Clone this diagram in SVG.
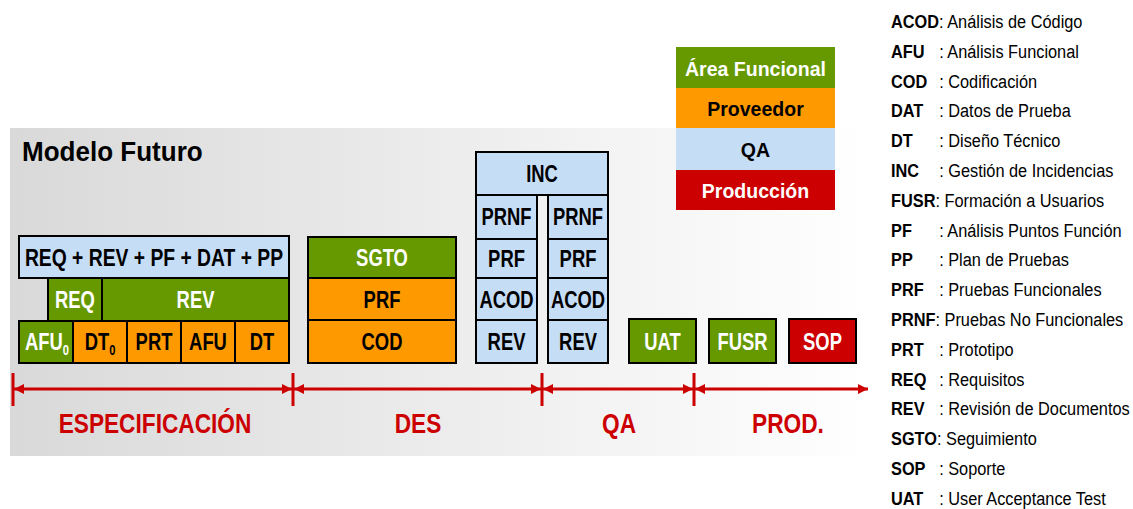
<svg xmlns="http://www.w3.org/2000/svg" width="1133" height="509" viewBox="0 0 1133 509">
  <defs>
    <linearGradient id="panelFill" x1="0" y1="0" x2="1" y2="0">
      <stop offset="0" stop-color="#d9d9d9"/>
      <stop offset="1" stop-color="#ffffff"/>
    </linearGradient>
    <marker id="head" viewBox="0 0 10 10" refX="10" refY="5" markerWidth="10" markerHeight="10" markerUnits="userSpaceOnUse" orient="auto-start-reverse">
      <path d="M0,0 L10,5 L0,10 z" fill="#cc0000"/>
    </marker>
    <style>
      text { font-family: "Liberation Sans", Arial, sans-serif; }
      .box { stroke: #000; stroke-width: 2; }
      .g { fill: #669900; }
      .o { fill: #ff9900; }
      .b { fill: #c6ddf6; }
      .r { fill: #cc0000; }
      .t { font-weight: bold; font-size: 23px; text-anchor: middle; }
      .kt { font-weight: bold; font-size: 21px; text-anchor: middle; }
      .w { fill: #ffffff; }
      .k { fill: #000000; }
      .title { font-weight: bold; font-size: 28px; fill: #000; }
      .phase { font-weight: bold; font-size: 27px; fill: #cc0000; text-anchor: middle; }
      .axis { stroke: #cc0000; stroke-width: 3; fill: none; }
      .seg { stroke: #cc0000; stroke-width: 3; fill: none; marker-start: url(#head); marker-end: url(#head); }
      .lg { font-size: 19px; fill: #000; }
      .ab { font-weight: bold; }
      .sub { font-size: 14px; }
    </style>
  </defs>

  <!-- background panel -->
  <rect x="10" y="128" width="860" height="328" fill="url(#panelFill)"/>
  <text class="title" transform="translate(22 161) scale(.93 1)">Modelo Futuro</text>

  <!-- colour key -->
  <g id="key">
    <rect x="676" y="47" width="159" height="41" class="g"/>
    <text class="kt w" transform="translate(755.5 76) scale(.93 1)">Área Funcional</text>
    <rect x="676" y="88" width="159" height="40" class="o"/>
    <text class="kt k" transform="translate(755.5 116) scale(.93 1)">Proveedor</text>
    <rect x="676" y="128" width="159" height="42" class="b"/>
    <text class="kt k" transform="translate(755.5 157) scale(.93 1)">QA</text>
    <rect x="676" y="170" width="159" height="40" class="r"/>
    <text class="kt w" transform="translate(755.5 198) scale(.93 1)">Producción</text>
  </g>

  <!-- ESPECIFICACIÓN stack -->
  <g id="spec-qa">
    <rect x="19" y="236" width="270" height="42" class="box b"/>
    <text class="t k" transform="translate(154 265.5) scale(.84 1)">REQ + REV + PF + DAT + PP</text>
  </g>
  <g id="spec-req">
    <rect x="48" y="278" width="54" height="43" class="box g"/>
    <text class="t w" transform="translate(75 308) scale(.8 1)">REQ</text>
  </g>
  <g id="spec-rev">
    <rect x="102" y="278" width="187" height="43" class="box g"/>
    <text class="t w" transform="translate(195.5 308) scale(.8 1)">REV</text>
  </g>
  <g id="spec-afu0">
    <rect x="19" y="321" width="54" height="42" class="box g"/>
    <text class="t w" transform="translate(47 350) scale(.8 1)">AFU<tspan class="sub" dy="5">0</tspan></text>
  </g>
  <g id="spec-dt0">
    <rect x="73" y="321" width="54" height="42" class="box o"/>
    <text class="t k" transform="translate(100 350) scale(.8 1)">DT<tspan class="sub" dy="5">0</tspan></text>
  </g>
  <g id="spec-prt">
    <rect x="127" y="321" width="54" height="42" class="box o"/>
    <text class="t k" transform="translate(154 350) scale(.8 1)">PRT</text>
  </g>
  <g id="spec-afu">
    <rect x="181" y="321" width="54" height="42" class="box o"/>
    <text class="t k" transform="translate(208 350) scale(.8 1)">AFU</text>
  </g>
  <g id="spec-dt">
    <rect x="235" y="321" width="54" height="42" class="box o"/>
    <text class="t k" transform="translate(262 350) scale(.8 1)">DT</text>
  </g>

  <!-- DES stack -->
  <g id="des-sgto">
    <rect x="308" y="237" width="148" height="41" class="box g"/>
    <text class="t w" transform="translate(382 265.5) scale(.8 1)">SGTO</text>
  </g>
  <g id="des-prf">
    <rect x="308" y="278" width="148" height="42" class="box o"/>
    <text class="t k" transform="translate(382 307.5) scale(.8 1)">PRF</text>
  </g>
  <g id="des-cod">
    <rect x="308" y="320" width="148" height="43" class="box o"/>
    <text class="t k" transform="translate(382 350) scale(.8 1)">COD</text>
  </g>

  <!-- QA stack -->
  <g id="qa-inc">
    <rect x="476" y="152" width="132" height="43" class="box b"/>
    <text class="t k" transform="translate(542 182) scale(.8 1)">INC</text>
  </g>
  <g id="qa-prnf-1">
    <rect x="476" y="195" width="61" height="44" class="box b"/>
    <text class="t k" transform="translate(506.5 225) scale(.8 1)">PRNF</text>
  </g>
  <g id="qa-prf-1">
    <rect x="476" y="239" width="61" height="39" class="box b"/>
    <text class="t k" transform="translate(506.5 267) scale(.8 1)">PRF</text>
  </g>
  <g id="qa-acod-1">
    <rect x="476" y="278" width="61" height="42" class="box b"/>
    <text class="t k" transform="translate(506.5 307.5) scale(.8 1)">ACOD</text>
  </g>
  <g id="qa-rev-1">
    <rect x="476" y="320" width="61" height="43" class="box b"/>
    <text class="t k" transform="translate(506.5 350) scale(.8 1)">REV</text>
  </g>
  <g id="qa-prnf-2">
    <rect x="548" y="195" width="60" height="44" class="box b"/>
    <text class="t k" transform="translate(578 225) scale(.8 1)">PRNF</text>
  </g>
  <g id="qa-prf-2">
    <rect x="548" y="239" width="60" height="39" class="box b"/>
    <text class="t k" transform="translate(578 267) scale(.8 1)">PRF</text>
  </g>
  <g id="qa-acod-2">
    <rect x="548" y="278" width="60" height="42" class="box b"/>
    <text class="t k" transform="translate(578 307.5) scale(.8 1)">ACOD</text>
  </g>
  <g id="qa-rev-2">
    <rect x="548" y="320" width="60" height="43" class="box b"/>
    <text class="t k" transform="translate(578 350) scale(.8 1)">REV</text>
  </g>

  <!-- PROD. boxes -->
  <g id="uat">
    <rect x="629" y="319" width="67" height="44" class="box g"/>
    <text class="t w" transform="translate(662.5 350) scale(.8 1)">UAT</text>
  </g>
  <g id="fusr">
    <rect x="709" y="319" width="67" height="44" class="box g"/>
    <text class="t w" transform="translate(742.5 350) scale(.8 1)">FUSR</text>
  </g>
  <g id="sop">
    <rect x="789" y="319" width="67" height="44" class="box r"/>
    <text class="t w" transform="translate(822.5 350) scale(.8 1)">SOP</text>
  </g>

  <!-- phase timeline -->
  <g id="connectors">
    <line class="axis" x1="13" y1="373" x2="13" y2="406"/>
    <line class="axis" x1="293" y1="373" x2="293" y2="406"/>
    <line class="axis" x1="542" y1="373" x2="542" y2="406"/>
    <line class="axis" x1="694" y1="373" x2="694" y2="406"/>
    <line class="seg" x1="14" y1="389" x2="292" y2="389"/>
    <line class="seg" x1="294" y1="389" x2="541" y2="389"/>
    <line class="seg" x1="543" y1="389" x2="693" y2="389"/>
    <line class="seg" x1="695" y1="389" x2="868" y2="389"/>
  </g>
  <g id="phases">
    <text class="phase" transform="translate(155 433) scale(.84 1)">ESPECIFICACIÓN</text>
    <text class="phase" transform="translate(418 433) scale(.84 1)">DES</text>
    <text class="phase" transform="translate(619 433) scale(.84 1)">QA</text>
    <text class="phase" transform="translate(788 433) scale(.84 1)">PROD.</text>
  </g>

  <!-- abbreviation glossary -->
  <g id="glossary" class="lg" transform="translate(891 0) scale(.86 1)">
    <text class="lg" y="28"><tspan class="ab">ACOD</tspan>: Análisis de Código</text>
    <text class="lg" y="57.8"><tspan class="ab">AFU</tspan><tspan x="56">: Análisis Funcional</tspan></text>
    <text class="lg" y="87.6"><tspan class="ab">COD</tspan><tspan x="56">: Codificación</tspan></text>
    <text class="lg" y="117.4"><tspan class="ab">DAT</tspan><tspan x="56">: Datos de Prueba</tspan></text>
    <text class="lg" y="147.2"><tspan class="ab">DT</tspan><tspan x="56">: Diseño Técnico</tspan></text>
    <text class="lg" y="177"><tspan class="ab">INC</tspan><tspan x="56">: Gestión de Incidencias</tspan></text>
    <text class="lg" y="206.8"><tspan class="ab">FUSR</tspan>: Formación a Usuarios</text>
    <text class="lg" y="236.6"><tspan class="ab">PF</tspan><tspan x="56">: Análisis Puntos Función</tspan></text>
    <text class="lg" y="266.4"><tspan class="ab">PP</tspan><tspan x="56">: Plan de Pruebas</tspan></text>
    <text class="lg" y="296.2"><tspan class="ab">PRF</tspan><tspan x="56">: Pruebas Funcionales</tspan></text>
    <text class="lg" y="326"><tspan class="ab">PRNF</tspan>: Pruebas No Funcionales</text>
    <text class="lg" y="355.8"><tspan class="ab">PRT</tspan><tspan x="56">: Prototipo</tspan></text>
    <text class="lg" y="385.6"><tspan class="ab">REQ</tspan><tspan x="56">: Requisitos</tspan></text>
    <text class="lg" y="415.4"><tspan class="ab">REV</tspan><tspan x="56">: Revisión de Documentos</tspan></text>
    <text class="lg" y="445.2"><tspan class="ab">SGTO</tspan>: Seguimiento</text>
    <text class="lg" y="475"><tspan class="ab">SOP</tspan><tspan x="56">: Soporte</tspan></text>
    <text class="lg" y="504.8"><tspan class="ab">UAT</tspan><tspan x="56">: User Acceptance Test</tspan></text>
  </g>
</svg>
